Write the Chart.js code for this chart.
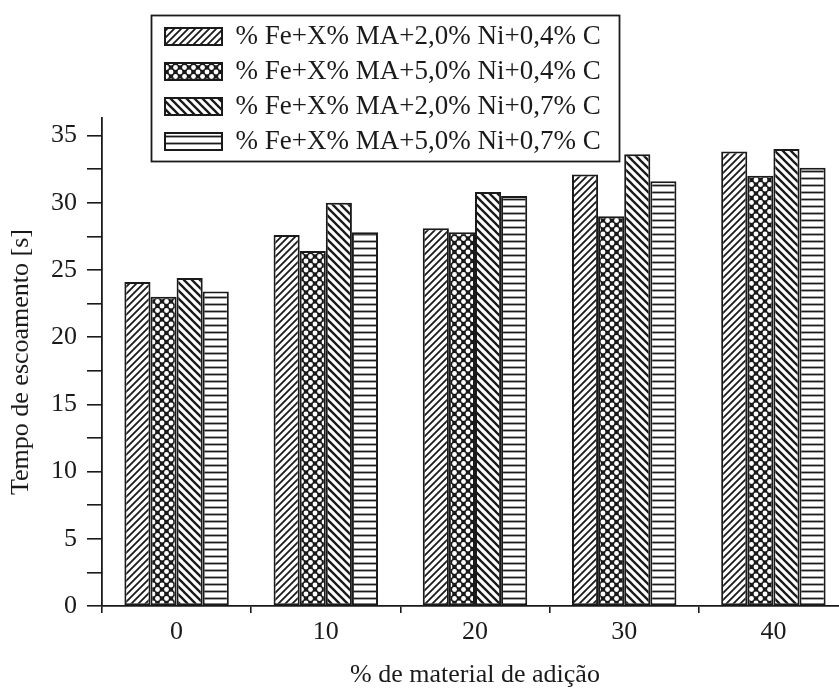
<!DOCTYPE html>
<html><head><meta charset="utf-8">
<script src="https://cdn.jsdelivr.net/npm/chart.js@4/dist/chart.umd.min.js"></script>
<style>
html,body{margin:0;padding:0;background:#fff;overflow:hidden;width:839px;height:691px}
#wrap{position:absolute;left:0;top:0;width:860px;height:691px}
</style>
</head><body><div id="wrap"><canvas id="c"></canvas></div>
<script>
const categories = ['0', '10', '20', '30', '40'];
const seriesNames = [
  '% Fe+X% MA+2,0% Ni+0,4% C',
  '% Fe+X% MA+5,0% Ni+0,4% C',
  '% Fe+X% MA+2,0% Ni+0,7% C',
  '% Fe+X% MA+5,0% Ni+0,7% C'
];
const ni2c04 = [24.1, 27.6, 28.1, 32.1, 33.8];
const ni5c04 = [23.0, 26.4, 27.8, 29.0, 32.0];
const ni2c07 = [24.4, 30.0, 30.8, 33.6, 34.0];
const ni5c07 = [23.4, 27.8, 30.5, 31.6, 32.6];
const yTickLabels = ['0', '5', '10', '15', '20', '25', '30', '35'];
const xTitle = '% de material de adição';
const yTitle = 'Tempo de escoamento [s]';

const FONT = 'Liberation Serif, Times New Roman, serif';
const INK = '#1a1a1a';

function makePattern(kind) {
  const c = document.createElement('canvas');
  const g = c.getContext('2d');
  let s = 7;
  if (kind === 'dots') s = 9;
  if (kind === 'back') s = 8;
  if (kind === 'horiz') s = 7;
  c.width = s; c.height = s;
  g.fillStyle = '#fff'; g.fillRect(0, 0, s, s);
  g.strokeStyle = INK; g.fillStyle = INK;
  if (kind === 'fwd') {
    g.lineWidth = 1.8;
    g.beginPath();
    g.moveTo(0, s); g.lineTo(s, 0);
    g.moveTo(-1, 1); g.lineTo(1, -1);
    g.moveTo(s - 1, s + 1); g.lineTo(s + 1, s - 1);
    g.stroke();
  } else if (kind === 'back') {
    g.lineWidth = 2.3;
    g.beginPath();
    g.moveTo(0, 0); g.lineTo(s, s);
    g.moveTo(-1, s - 1); g.lineTo(1, s + 1);
    g.moveTo(s - 1, -1); g.lineTo(s + 1, 1);
    g.stroke();
  } else if (kind === 'dots') {
    g.fillRect(0, 0, s, s);
    g.fillStyle = '#fff';
    const pts = [[s / 2, s / 2], [0, 0], [s, 0], [0, s], [s, s]];
    for (const [px, py] of pts) {
      g.beginPath(); g.arc(px, py, 2.4, 0, Math.PI * 2); g.fill();
    }
  } else if (kind === 'horiz') {
    g.lineWidth = 1.8;
    g.beginPath(); g.moveTo(0, s / 2); g.lineTo(s, s / 2); g.stroke();
  }
  return g.createPattern(c, 'repeat');
}

const ctx = document.getElementById('c').getContext('2d');
const patterns = [makePattern('fwd'), makePattern('dots'), makePattern('back'), makePattern('horiz')];
const seriesData = [ni2c04, ni5c04, ni2c07, ni5c07];

const legendPlacer = {
  id: 'legendPlacer',
  beforeDraw(chart) {
    const lg = chart.legend;
    const w = Math.max(...lg.legendHitBoxes.map(h => h.width));
    lg.left = 157; lg.top = 15;
    lg.right = lg.left + w + 40; lg.bottom = lg.top + 300;
    lg.width = lg.right - lg.left; lg.height = lg.bottom - lg.top;
  },
  afterDraw(chart) {
    const lg = chart.legend;
    const g = chart.ctx;
    g.save();
    g.strokeStyle = INK; g.lineWidth = 1.8;
    g.strokeRect(lg.left - 5.5, lg.top + 0.5, 468, 146);
    g.restore();
  }
};

new Chart(ctx, {
  type: 'bar',
  data: {
    labels: categories,
    datasets: seriesNames.map((name, i) => ({
      label: name,
      data: seriesData[i],
      backgroundColor: patterns[i],
      borderColor: INK,
      borderWidth: 2,
      borderSkipped: false,
      categoryPercentage: 0.7,
      barPercentage: 1.0
    }))
  },
  options: {
    responsive: true,
    maintainAspectRatio: false,
    animation: false,
    events: [],
    layout: { padding: { left: 0, right: 12, top: 118, bottom: 0 } },
    plugins: {
      legend: {
        position: 'chartArea',
        align: 'start',
        labels: {
          boxWidth: 57, boxHeight: 17, padding: 8,
          color: INK,
          font: { family: FONT, size: 27 }
        }
      },
      tooltip: { enabled: false }
    },
    scales: {
      x: {
        grid: { display: true, offset: true, drawOnChartArea: false, tickLength: 7, color: INK, lineWidth: 1.6 },
        border: { display: true, color: INK, width: 1.8 },
        ticks: { color: INK, font: { family: FONT, size: 26 }, padding: 4 },
        title: { display: true, text: xTitle, color: INK, font: { family: FONT, size: 26 }, padding: { top: 6, bottom: 0 } },
        afterFit(scale) { scale.height = 85; }
      },
      y: {
        min: 0, max: 36.3,
        grid: { display: true, drawOnChartArea: false, tickLength: 15, color: INK, lineWidth: 1.6 },
        border: { display: true, color: INK, width: 1.8 },
        ticks: {
          stepSize: 2.5, includeBounds: false, color: INK,
          font: { family: FONT, size: 26 }, padding: 10,
          callback(v) { const t = String(v); return yTickLabels.includes(t) ? t : ''; }
        },
        title: { display: true, text: yTitle, color: INK, font: { family: FONT, size: 26 }, padding: { top: 6, bottom: 0 } },
        afterFit(scale) { scale.width = 102; }
      }
    }
  },
  plugins: [legendPlacer]
});
</script>
</body></html>
